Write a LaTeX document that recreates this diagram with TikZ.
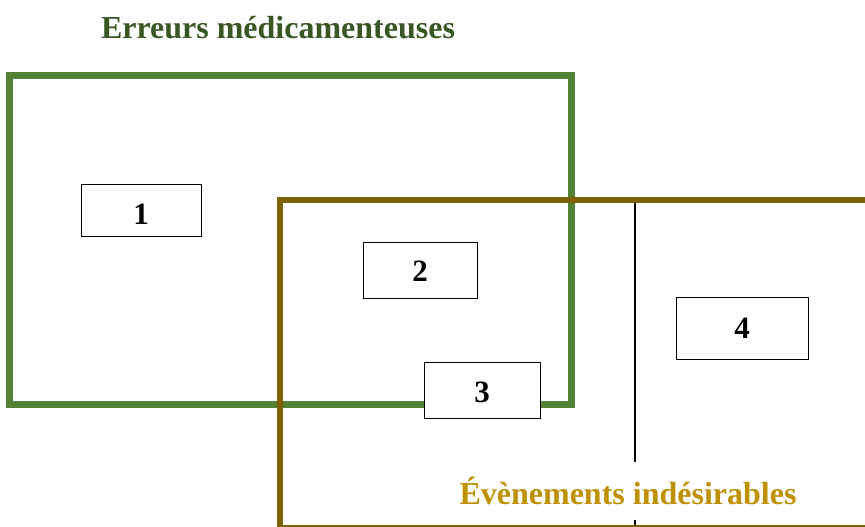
\documentclass[tikz,border=0pt]{standalone}
\usepackage{fontspec}
\setmainfont{Liberation Serif}
\definecolor{greenbox}{HTML}{548235}
\definecolor{brownbox}{HTML}{7F6000}
\definecolor{titlegreen}{HTML}{385723}
\definecolor{labelgold}{HTML}{BF9000}
\tikzset{
  numbox/.style={draw=black, line width=0.9pt, fill=white, inner sep=0pt,
    font=\fontsize{31}{33}\selectfont\bfseries, text height=21pt, text depth=0pt},
  biglabel/.style={font=\fontsize{32}{34}\selectfont\bfseries, inner sep=0pt}
}
\begin{document}
\begin{tikzpicture}[x=1pt,y=-1pt]
\useasboundingbox (0,0) rectangle (865,527);
% green set
\draw[greenbox, line width=7pt] (9,76) rectangle (571,404);
% divider line
\coordinate (dtop) at (635,200);
\coordinate (dbot) at (635,527);
\draw[black, line width=1.3pt] (dtop) -- (dbot);
% brown set
\draw[brownbox, line width=6pt] (280,528) -- (280,200) -- (875,200);
\draw[brownbox, line width=6pt] (280,528) -- (875,528);
% boxes
\node[numbox, minimum width=120pt, minimum height=52pt, text height=29pt] (n1) at (141,210) {1};
\node[numbox, minimum width=114pt, minimum height=56pt, text height=23pt] (n2) at (420,270) {2};
\node[numbox, minimum width=116pt, minimum height=56pt, text height=25pt] (n3) at (482,390) {3};
\node[numbox, minimum width=132pt, minimum height=62pt] (n4) at (742,328) {4};
% labels
\node[biglabel, text=titlegreen] (t1) at (278,28) {Erreurs médicamenteuses};
\node[biglabel, text=labelgold, fill=white, minimum height=58pt, inner xsep=2pt] (t2) at (628,491) {Évènements indésirables};
\end{tikzpicture}
\end{document}
